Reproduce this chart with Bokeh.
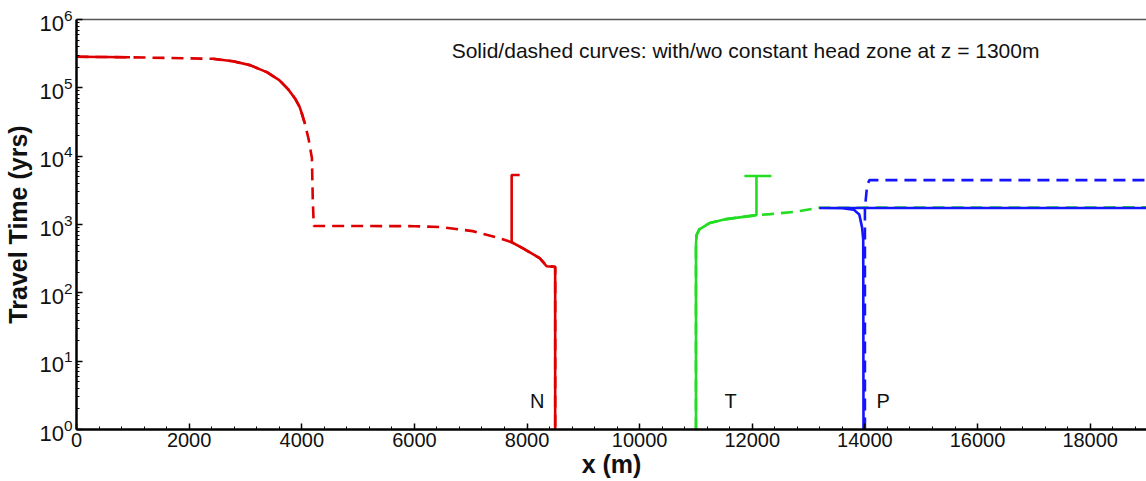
import numpy as np
from bokeh.plotting import figure
from bokeh.models import Label, LinearAxis, FixedTicker, SingleIntervalTicker, LogTickFormatter
from bokeh.embed import file_html
from bokeh.resources import INLINE

nan = float("nan")

# ---- data ----
x_max = 19000
y_ticks = [1, 10, 100, 1000, 10000, 100000, 1000000]

# N (red)
red_dash_x = [0, 950, 2420, 2780, 3080, 3380, 3600, 3760, 3880, 3960, 4010, 4050, 4120, 4180, 4196, 4214,
              5000, 6000, 6450, 7036, 7514, 7727, 7922, 8224, 8348, 8500, 8500]
red_dash_y = [2.85e5, 2.8e5, 2.66e5, 2.45e5, 2.15e5, 1.7e5, 1.3e5, 9.5e4, 7.0e4, 5.3e4, 4.0e4, 3.1e4, 1.8e4, 9.4e3, 2.2e3, 950,
              950, 945, 920, 800, 630, 550, 450, 323, 250, 240, 1]
red_solid_x = [0, 950, nan, 2420, 2780, 3080, 3380, 3600, 3760, 3880, 3960, 4010, 4050, nan,
               7869, 7727, 7727, 7922, 8224, 8348, 8500, 8500]
red_solid_y = [2.85e5, 2.8e5, nan, 2.66e5, 2.45e5, 2.15e5, 1.7e5, 1.3e5, 9.5e4, 7.0e4, 5.3e4, 4.0e4, 3.1e4, nan,
               5300, 5300, 550, 450, 323, 245, 240, 1]

# T (green)
green_dash_x = [11000, 11000, 11010, 11060, 11240, 11540, 12074, 12320, 12720, 13190, x_max]
green_dash_y = [1, 500, 700, 850, 1050, 1200, 1370, 1420, 1520, 1760, 1780]
green_solid_x = [11000, 11000, 11010, 11060, 11240, 11540, 12074, 12074, nan, 11860, 12340]
green_solid_y = [1, 500, 700, 850, 1050, 1200, 1370, 5130, nan, 5130, 5130]

# P (blue)
blue_dash_x = [14000, 14000, 14040, 14080, x_max]
blue_dash_y = [1, 1740, 3800, 4460, 4460]
blue_solid_x = [13190, x_max, nan, 13190, 13600, 13800, 13900, 13950, 13970, 13975]
blue_solid_y = [1740, 1740, nan, 1740, 1730, 1650, 1400, 900, 600, 1]

labels_txt = ["N", "T", "P"]
labels_x = [8180, 11613, 14325]
labels_y = [2.6, 2.6, 2.6]

note = "Solid/dashed curves: with/wo constant head zone at z = 1300m"

FONT = "Liberation Sans"
RED, GREEN, BLUE = "#dd0000", "#22dd22", "#1414ff"
DASH = "12 7"
LW = 2.6

p = figure(width=1146, height=481, x_range=(0, x_max), y_range=(1, 1e6),
           y_axis_type="log", output_backend="svg", toolbar_location=None,
           min_border_left=76, min_border_right=0, min_border_top=19, min_border_bottom=52)
p.xgrid.visible = False
p.ygrid.visible = False
p.outline_line_color = None
p.background_fill_color = "white"
p.border_fill_color = "white"

# axes
p.xaxis.ticker = SingleIntervalTicker(interval=2000, num_minor_ticks=5)
p.yaxis.ticker = FixedTicker(ticks=y_ticks,
                             minor_ticks=[m * 10 ** e for e in range(6) for m in range(2, 10)])
p.yaxis.formatter = LogTickFormatter()
for ax in (p.xaxis[0], p.yaxis[0]):
    ax.axis_line_width = 2.5
    ax.axis_line_color = "black"
    ax.major_tick_in = 6
    ax.major_tick_out = 0
    ax.minor_tick_in = 3
    ax.minor_tick_out = 0
    ax.major_tick_line_width = 1.5
    ax.minor_tick_line_width = 1
    ax.major_label_text_font = FONT
    ax.major_label_text_color = "#111111"
    ax.axis_label_text_font = FONT
    ax.axis_label_text_font_style = "bold"
    ax.axis_label_text_font_size = "25px"
    ax.axis_label_text_color = "#111111"
p.xaxis.major_label_text_font_size = "20px"
p.yaxis.major_label_text_font_size = "22px"
p.xaxis.axis_label = "x (m)"
p.yaxis.axis_label = "Travel Time (yrs)"
p.xaxis.major_label_standoff = 3
p.xaxis.axis_label_standoff = 0
p.yaxis.major_label_standoff = 4
p.yaxis.axis_label_standoff = 4

top = LinearAxis(ticker=FixedTicker(ticks=[]), axis_line_color="#555555", axis_line_width=1.5)
p.add_layout(top, "above")

# curves: dashed first, solid on top
p.line(red_dash_x, red_dash_y, color=RED, line_width=LW, line_dash=DASH)
p.line(green_dash_x, green_dash_y, color=GREEN, line_width=LW, line_dash=DASH)
p.line(blue_dash_x, blue_dash_y, color=BLUE, line_width=LW, line_dash=DASH)
p.line(red_solid_x, red_solid_y, color=RED, line_width=LW)
p.line(green_solid_x, green_solid_y, color=GREEN, line_width=LW)
p.line(blue_solid_x, blue_solid_y, color=BLUE, line_width=LW)

for t, lx, ly in zip(labels_txt, labels_x, labels_y):
    p.add_layout(Label(x=lx, y=ly, text=t, text_align="center", text_baseline="middle",
                       text_font=FONT, text_font_size="20px", text_color="#111111"))

p.add_layout(Label(x=6662, y=10 ** 5.54, text=note, text_align="left", text_baseline="middle",
                   text_font=FONT, text_font_size="21px", text_color="#111111"))

open("out.html", "w").write(file_html(p, INLINE))
